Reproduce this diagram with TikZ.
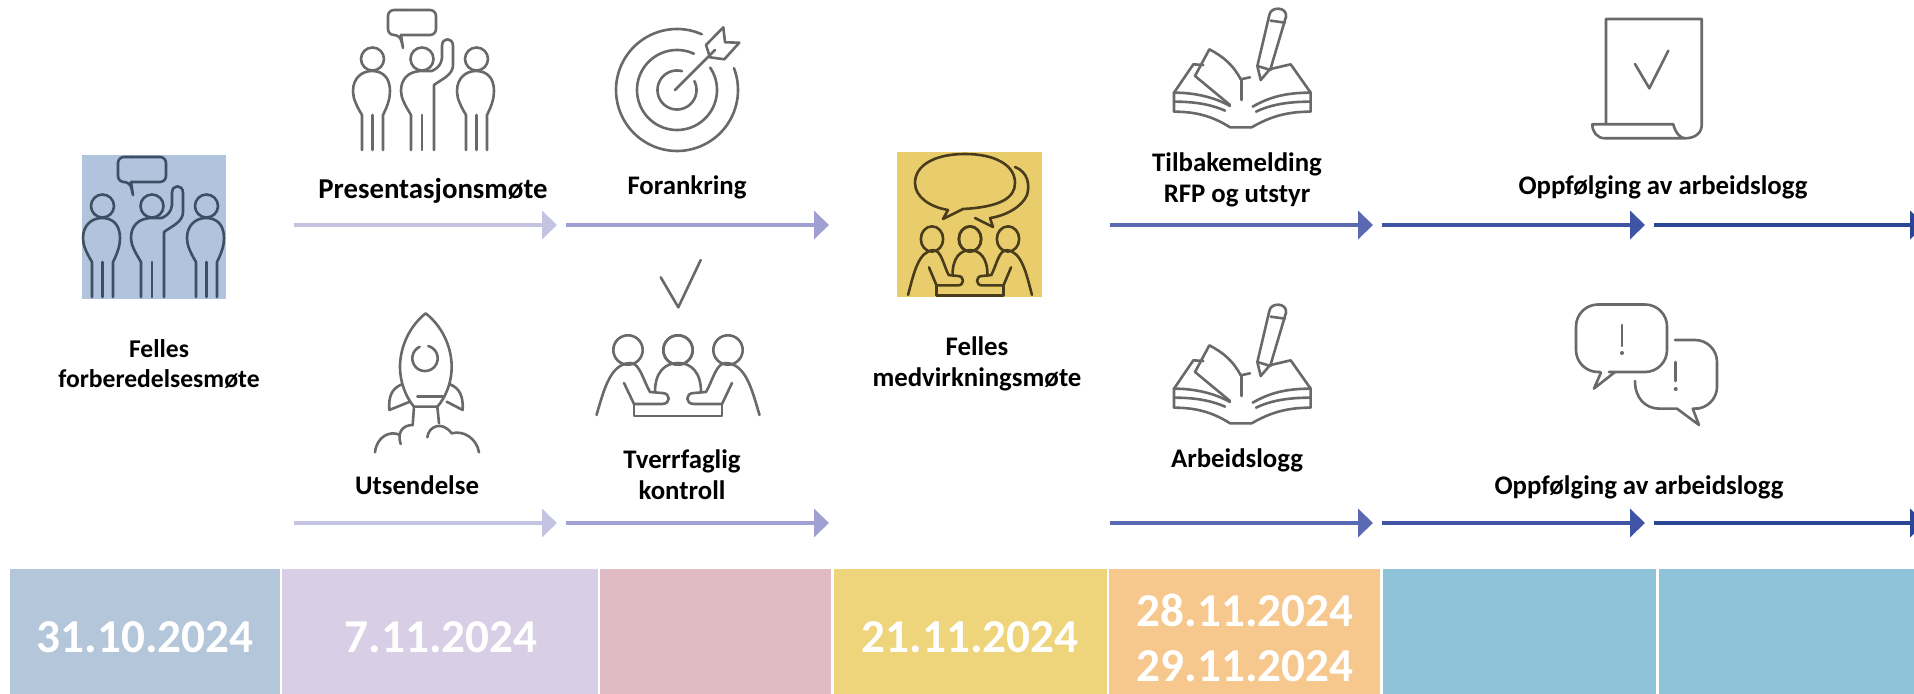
\documentclass[tikz,border=0pt]{standalone}
\usepackage{fontspec}
\setmainfont{Carlito}
\usetikzlibrary{arrows.meta}
\definecolor{cgrey}{RGB}{105,105,105}
\definecolor{cboxblue}{RGB}{176,196,222}
\definecolor{cboxyellow}{RGB}{233,205,108}
\definecolor{ciconblue}{RGB}{62,78,100}
\definecolor{ciconyellow}{RGB}{72,60,28}
\definecolor{cb1}{RGB}{180,198,218}
\definecolor{cb2}{RGB}{216,206,229}
\definecolor{cb3}{RGB}{224,187,198}
\definecolor{cb4}{RGB}{238,213,124}
\definecolor{cb5}{RGB}{246,200,142}
\definecolor{cb6}{RGB}{143,195,218}
\definecolor{ca1}{RGB}{196,196,226}
\definecolor{ca2}{RGB}{160,160,210}
\definecolor{ca3}{RGB}{90,105,178}
\definecolor{ca4}{RGB}{64,84,165}
\definecolor{ca5}{RGB}{44,70,150}
\tikzset{
  x=0.5pt,y=-0.5pt,
  icon/.style={draw=cgrey,line width=1.3pt,line join=round,line cap=round},
  lbl/.style={font=\fontsize{13.4}{15.6}\selectfont\bfseries,align=center,text=black,inner sep=0pt},
  datelbl/.style={font=\fontsize{23.6}{27.5}\selectfont\bfseries,align=center,text=white,inner sep=0pt},
  flow/.style={line width=2.3pt,-{Triangle[length=7.5pt,width=14pt]}},
  peopleicon/.pic={
    \draw[pic actions] (132,157) [rounded corners=3pt] -- (118,157) -- (118,182) -- (130,182) [sharp corners] -- (133,195) -- (131,182);
    \draw[pic actions,rounded corners=3pt] (131,182) -- (166,182) -- (166,157) -- (132,157);
    \draw[pic actions] (102.5,206) circle[radius=11.5];
    \draw[pic actions] (92,297) -- (92,262) .. controls (86,252) and (83,245) .. (83,238) .. controls (83,225) and (92,218) .. (102,218) .. controls (113,218) and (120,225) .. (120,238) .. controls (120,245) and (118,252) .. (113,262) -- (113,297);
    \draw[pic actions] (102.5,262) -- (102.5,297);
    \draw[pic actions] (206.5,206) circle[radius=11.5];
    \draw[pic actions] (196,297) -- (196,262) .. controls (190,252) and (187,245) .. (187,238) .. controls (187,225) and (196,218) .. (206,218) .. controls (217,218) and (224,225) .. (224,238) .. controls (224,245) and (222,252) .. (217,262) -- (217,297);
    \draw[pic actions] (206.5,262) -- (206.5,297);
    \draw[pic actions] (152,206) circle[radius=11.5];
    \draw[pic actions] (141,297) -- (141,262) .. controls (135,252) and (131,245) .. (131,238) .. controls (131,226) and (138,219) .. (150,218) -- (162,218) .. controls (168,215) and (171,212) .. (172,205) -- (172,193) .. controls (172,184) and (183,184) .. (183,193) -- (183,212) .. controls (183,222) and (172,226) .. (164,232) -- (164,297);
    \draw[pic actions] (152,262) -- (152,297);
  },
  meethalf/.pic={
    \draw[pic actions] (-50,0) circle[radius=14.7];
    \draw[pic actions] (0,0) circle[radius=14.7];
    \draw[pic actions] (-81.5,65) .. controls (-74,40) and (-68,14) .. (-48,13) .. controls (-38,13) and (-35,30) .. (-28,42) -- (-16,43) .. controls (-7,43) and (-7,54) .. (-16,54) -- (-44,54);
    \draw[pic actions] (-54,33) -- (-44,54);
    \draw[pic actions] (-44,54) -- (-44,66) -- (0,66);
    \draw[pic actions] (-23,42) .. controls (-23,22) and (-13,13) .. (0,13);
  },
  bookicon/.pic={
    \draw[pic actions] (322,198) -- (358,45) .. controls (362,18) and (412,20) .. (408,50) -- (362,205) -- (332,240) -- (322,198) -- (362,210);
    \draw[pic actions] (362,62) -- (405,68);
    \draw[pic actions] (240,315) -- (135,228) -- (178,148) .. controls (220,170) and (250,195) .. (272,238) -- (300,232);
    \draw[pic actions] (275,238) -- (275,300);
    \draw[pic actions] (160,195) -- (130,193) -- (72,278) -- (72,335);
    \draw[pic actions] (72,278) .. controls (130,278) and (190,290) .. (240,318);
    \draw[pic actions] (72,305) .. controls (130,305) and (180,312) .. (225,332);
    \draw[pic actions] (72,335) .. controls (140,335) and (190,350) .. (240,382) -- (305,382) .. controls (360,350) and (410,335) .. (482,335) -- (482,278);
    \draw[pic actions] (362,207) -- (422,193) -- (482,278) .. controls (410,278) and (360,290) .. (308,320);
    \draw[pic actions] (482,305) .. controls (410,305) and (360,315) .. (318,335);
  },
  rocketicon/.pic={
    \draw[pic actions] (437,70) .. controls (375,120) and (360,190) .. (360,230) .. controls (360,280) and (380,325) .. (402,350) -- (472,350) .. controls (495,325) and (515,280) .. (515,230) .. controls (515,190) and (500,120) .. (437,70);
    \draw[pic actions] plot[domain=115:435,samples=50,smooth] ({435+38*cos(\x)},{205-38*sin(\x)});
    \draw[pic actions] (412,320) -- (490,320);
    \draw[pic actions] (366,283) .. controls (335,295) and (325,320) .. (328,360) -- (390,335);
    \draw[pic actions] (510,283) .. controls (540,295) and (550,320) .. (548,360) -- (500,335);
    \draw[pic actions] (402,350) -- (398,405);
    \draw[pic actions] (472,350) -- (477,400);
    \draw[pic actions] (285,487) .. controls (290,440) and (330,420) .. (360,435);
    \draw[pic actions] (362,462) .. controls (350,425) and (370,405) .. (398,405);
    \draw[pic actions] (442,442) .. controls (445,410) and (485,390) .. (515,430) .. controls (550,420) and (590,445) .. (597,487);
  }
}
\begin{document}
\begin{tikzpicture}
\useasboundingbox (0,0) rectangle (1914,694);
\clip (0,0) rectangle (1914,694);
% bottom band
\fill[cb1] (10,569) rectangle (280,694);
\fill[cb2] (282,569) rectangle (598,694);
\fill[cb3] (600,569) rectangle (831,694);
\fill[cb4] (834,569) rectangle (1107,694);
\fill[cb5] (1109,569) rectangle (1380,694);
\fill[cb6] (1383,569) rectangle (1656,694);
\fill[cb6] (1659,569) rectangle (1914,694);
\node[datelbl] (d1) at (145,637) {31.10.2024};
\node[datelbl] (d2) at (441,637) {7.11.2024};
\node[datelbl] (d3) at (970,637) {21.11.2024};
\node[datelbl] (d4) at (1245,638) {28.11.2024\\29.11.2024};
% coloured icon squares
\fill[cboxblue] (82,155) rectangle (226,299);
\fill[cboxyellow] (897,152) rectangle (1042,297);
\pic[icon,draw=ciconblue] at (0,0) {peopleicon};
\pic[icon] at (270,-147) {peopleicon};
% target
\draw[icon] plot[domain=66:381,samples=90,smooth] ({677+61*cos(\x)},{90-61*sin(\x)});
\draw[icon] plot[domain=65:394,samples=90,smooth] ({677+40*cos(\x)},{90-40*sin(\x)});
\draw[icon] plot[domain=75:387,samples=70,smooth] ({677+19.5*cos(\x)},{90-19.5*sin(\x)});
\draw[icon] (675,90) -- (715,50);
\draw[icon] (706,45) -- (723.3,27.3) -- (725,42.3) -- (739.3,42.7) -- (724.3,59.3) -- (710,57.3) -- cycle;
% check + meeting
\draw[icon] (660.7,277.3) -- (678.3,307.3) -- (700.7,260);
\pic[icon] at (678,350) {meethalf};
\pic[icon,xscale=-1] at (678,350) {meethalf};
% yellow meeting
\pic[icon,draw=ciconyellow,xscale=.76,yscale=.86] at (970,239) {meethalf};
\pic[icon,draw=ciconyellow,xscale=-.76,yscale=.86] at (970,239) {meethalf};
\draw[icon,draw=ciconyellow] (963,209) .. controls (1000,207) and (1015,198) .. (1015,183) .. controls (1015,165) and (995,154) .. (965,154) .. controls (935,154) and (915,165) .. (915,183) .. controls (915,197) and (930,207) .. (948,210) -- (943,219) -- cycle;
\draw[icon,draw=ciconyellow] (1015,167) .. controls (1028,172) and (1030,185) .. (1027,195) .. controls (1022,207) and (1005,216) .. (990,218) -- (993,227) -- (975,218);
% rocket, books
\pic[icon,scale=1/3] at (280,290) {rocketicon};
\pic[icon,scale=1/3] at (1150,0) {bookicon};
\pic[icon,scale=1/3] at (1150,296) {bookicon};
% paper
\draw[icon] (1606,124) -- (1606,19) -- (1701.7,19) -- (1701.7,125) .. controls (1701.7,133) and (1695,138.3) .. (1685,138.3) -- (1605,138.3) .. controls (1597,138.3) and (1592.3,132) .. (1592.3,124.3) -- (1673.3,124.3) .. controls (1675,132) and (1680,138.3) .. (1685,138.3);
\draw[icon] (1635,64) -- (1649.3,88.3) -- (1668.3,50.7);
% chat
\draw[icon,rounded corners=11pt] (1609,372) -- (1667,372) -- (1667,304.5) -- (1576,304.5) -- (1576,372) -- (1600,372);
\draw[icon] (1601,372.5) -- (1594,388.5) -- (1615,372);
\draw[icon,rounded corners=11pt] (1675,340) -- (1717,340) -- (1717,408.7) -- (1697,408.7);
\draw[icon] (1635,381) .. controls (1635,398) and (1645,408.7) .. (1660,408.7) -- (1677,408.7) -- (1699,425) -- (1692.7,408.7) -- (1698,408.7);
\draw[icon] (1622,325) -- (1622,346);
\fill[cgrey] (1622,353) circle[radius=2];
\draw[icon] (1675.7,362) -- (1675.7,381);
\fill[cgrey] (1675.7,389) circle[radius=2];
% labels
\node[lbl,font=\fontsize{12.8}{15.2}\selectfont\bfseries] (felles1) at (159,364) {Felles\\forberedelsesmøte};
\node[lbl,font=\fontsize{14.4}{15.6}\selectfont\bfseries] (pres) at (433,191) {Presentasjonsmøte};
\node[lbl] (foran) at (687,187) {Forankring};
\node[lbl] (utsend) at (417,485) {Utsendelse};
\node[lbl] (tverr) at (682,475) {Tverrfaglig\\kontroll};
\node[lbl] (felles2) at (977,364) {Felles\\medvirkningsmøte};
\node[lbl] (tilb) at (1237,180) {Tilbakemelding\\RFP og utstyr};
\node[lbl] (arb) at (1237,460) {Arbeidslogg};
\node[lbl] (opp1) at (1663,187) {Oppfølging av arbeidslogg};
\node[lbl] (opp2) at (1639,487) {Oppfølging av arbeidslogg};
% arrow endpoints
\foreach \n/\yy in {t/225,b/523}{
  \coordinate (\n a0) at (294,\yy);  \coordinate (\n a1) at (557,\yy);
  \coordinate (\n b0) at (566,\yy);  \coordinate (\n b1) at (829,\yy);
  \coordinate (\n c0) at (1110,\yy); \coordinate (\n c1) at (1373,\yy);
  \coordinate (\n d0) at (1382,\yy); \coordinate (\n d1) at (1645,\yy);
  \coordinate (\n e0) at (1654,\yy); \coordinate (\n e1) at (1925,\yy);
}
\foreach \n in {t,b}{
  \draw[flow,ca1] (\n a0) -- (\n a1);
  \draw[flow,ca2] (\n b0) -- (\n b1);
  \draw[flow,ca3] (\n c0) -- (\n c1);
  \draw[flow,ca4] (\n d0) -- (\n d1);
  \draw[flow,ca5] (\n e0) -- (\n e1);
}
\end{tikzpicture}
\end{document}
